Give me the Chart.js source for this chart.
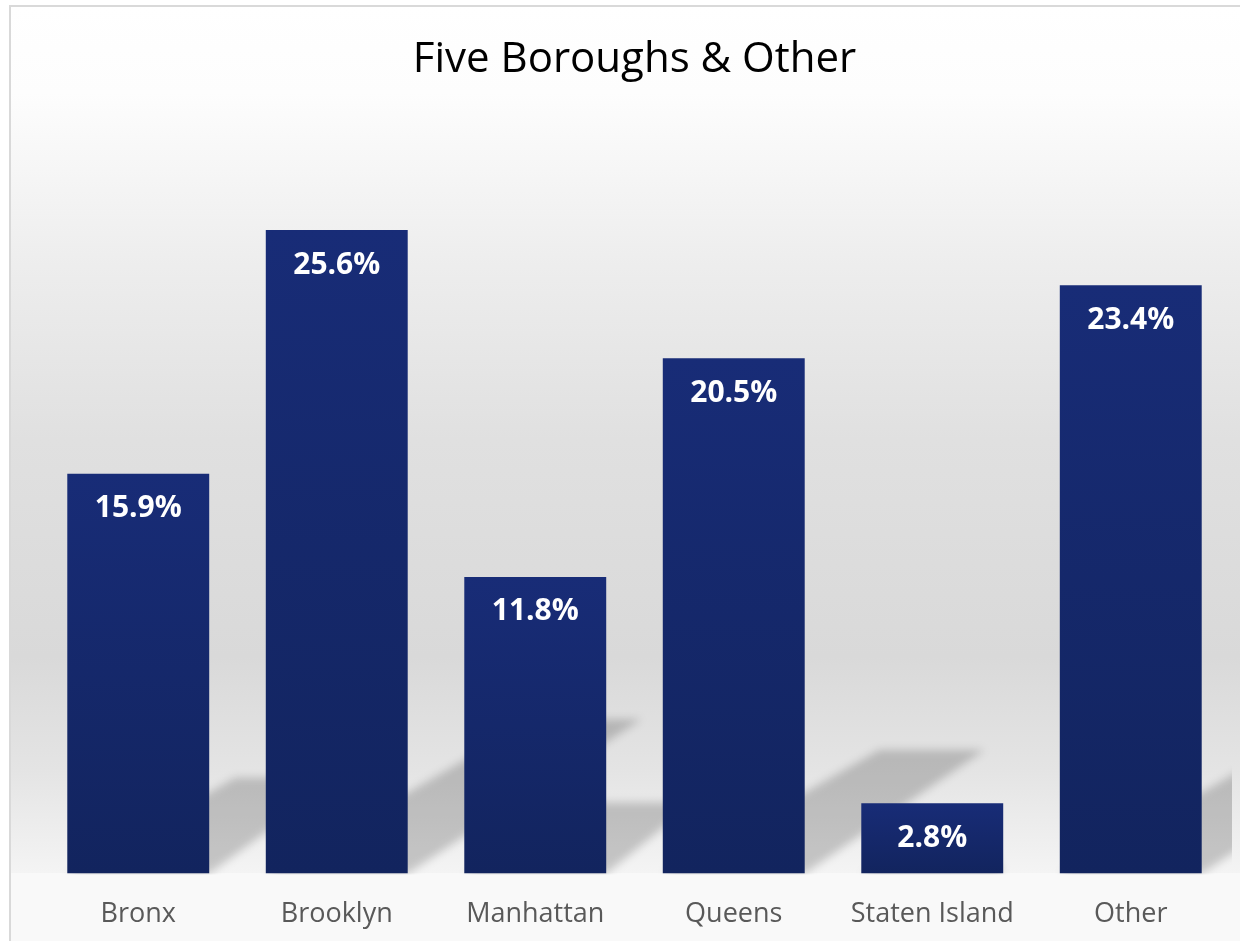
<!DOCTYPE html>
<html>
<head>
<meta charset="utf-8">
<title>Five Boroughs & Other</title>
<script src="https://cdn.jsdelivr.net/npm/chart.js@4/dist/chart.umd.min.js"></script>
<style>
    html, body { margin: 0; padding: 0; background: #fff; overflow: hidden; }
    #wrap { position: relative; width: 1270px; height: 973px; }
</style>
</head>
<body>
<div id="wrap"><canvas id="boroughs-chart"></canvas></div>
<script>
const categories = ['Bronx', 'Brooklyn', 'Manhattan', 'Queens', 'Staten Island', 'Other'];
const shares = [15.9, 25.6, 11.8, 20.5, 2.8, 23.4];
const axisMax = 30;

(() => {
    // plot background: white at the top, grey in the middle, lighter again near the axis
    const backdrop = {
        id: 'backdrop',
        beforeDraw(chart) {
            const { ctx, width, height, chartArea } = chart;
            ctx.save();
            ctx.fillStyle = '#ffffff';
            ctx.fillRect(0, 0, width, height);
            const g = ctx.createLinearGradient(0, 6, 0, chartArea.bottom);
            g.addColorStop(0.00, '#ffffff');
            g.addColorStop(0.10, '#fdfdfd');
            g.addColorStop(0.30, '#ededed');
            g.addColorStop(0.50, '#e0e0e0');
            g.addColorStop(0.75, '#d9d9d9');
            g.addColorStop(0.88, '#e4e4e4');
            g.addColorStop(1.00, '#f4f4f4');
            ctx.fillStyle = g;
            ctx.fillRect(11, 7, width, chartArea.bottom - 7);
            ctx.fillStyle = '#f9f9f9';
            ctx.fillRect(11, chartArea.bottom, width, height);
            ctx.strokeStyle = '#d9d9d9';
            ctx.lineWidth = 2;
            ctx.beginPath();
            ctx.moveTo(10, height);
            ctx.lineTo(10, 6);
            ctx.lineTo(width, 6);
            ctx.stroke();
            ctx.restore();
        }
    };

    // slanted soft shadows cast up and to the right from each bar's base
    const barShadows = {
        id: 'barShadows',
        beforeDatasetsDraw(chart) {
            const { ctx, chartArea } = chart;
            const meta = chart.getDatasetMeta(0);
            ctx.save();
            ctx.beginPath();
            ctx.rect(11, chartArea.top - 40, 1221, chartArea.bottom - chartArea.top + 41);
            ctx.clip();
            ctx.filter = 'blur(4px)';
            ctx.fillStyle = 'rgba(0, 0, 0, 0.19)';
            meta.data.forEach(bar => {
                const { x, y, base, width } = bar.getProps(['x', 'y', 'base', 'width'], true);
                const left = x - width / 2;
                const right = x + width / 2;
                const sh = (base - y) * 0.24;
                const topLeft = left + sh * 1.75;
                const topRight = topLeft + width * 0.74;
                ctx.beginPath();
                ctx.moveTo(left, base);
                ctx.lineTo(right, base);
                ctx.lineTo(topRight, base - sh);
                ctx.lineTo(topLeft, base - sh);
                ctx.closePath();
                ctx.fill();
            });
            ctx.restore();
        }
    };

    // value labels printed inside the top of each bar
    const valueLabels = {
        id: 'valueLabels',
        afterDatasetsDraw(chart) {
            const { ctx } = chart;
            const meta = chart.getDatasetMeta(0);
            ctx.save();
            ctx.fillStyle = '#ffffff';
            ctx.font = 'bold 30px "Open Sans"';
            ctx.textAlign = 'center';
            ctx.textBaseline = 'middle';
            meta.data.forEach((bar, i) => {
                ctx.fillText(shares[i].toFixed(1) + '%', bar.x, bar.y + 35);
            });
            ctx.restore();
        }
    };

    const ctx = document.getElementById('boroughs-chart').getContext('2d');
    const myChart = new Chart(ctx, {
        type: 'bar',
        data: {
            labels: categories,
            datasets: [{
                label: 'Share',
                data: shares,
                backgroundColor(c) {
                    const chart = c.chart;
                    if (!chart.chartArea || c.raw === undefined) return '#152870';
                    const yScale = chart.scales.y;
                    const top = yScale.getPixelForValue(c.raw);
                    const bottom = yScale.getPixelForValue(0);
                    const g = chart.ctx.createLinearGradient(0, top, 0, bottom);
                    g.addColorStop(0, '#182c77');
                    g.addColorStop(1, '#12245e');
                    return g;
                },
                borderWidth: 0,
                barPercentage: 0.715,
                categoryPercentage: 1
            }]
        },
        options: {
            responsive: true,
            maintainAspectRatio: false,
            animation: false,
            layout: {
                padding: { left: 39, right: 40, top: 0, bottom: 17 }
            },
            scales: {
                x: {
                    grid: { display: false, drawTicks: false },
                    border: { display: false },
                    ticks: {
                        color: '#595959',
                        padding: 25,
                        font: { family: '"Open Sans"', size: 27 }
                    }
                },
                y: {
                    display: false,
                    min: 0,
                    max: axisMax
                }
            },
            plugins: {
                legend: { display: false },
                tooltip: { enabled: false },
                title: {
                    display: true,
                    text: 'Five Boroughs & Other',
                    color: '#000000',
                    font: { family: '"Open Sans"', size: 42, weight: 'normal' },
                    padding: { top: 35, bottom: 34 }
                }
            }
        },
        plugins: [backdrop, barShadows, valueLabels]
    });
})();
</script>
</body>
</html>
